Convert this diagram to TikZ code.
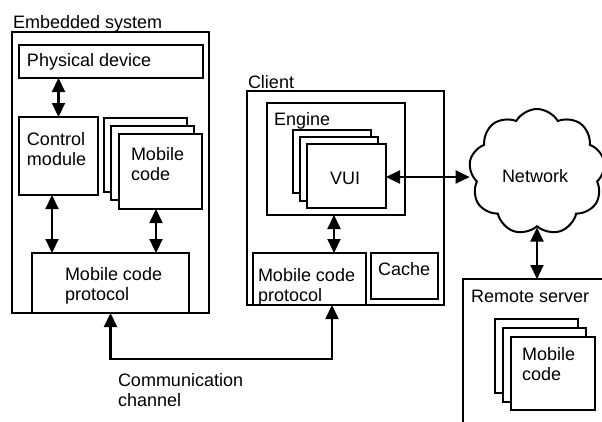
\documentclass[tikz,border=0pt]{standalone}
\usepackage{fontspec}
\setmainfont{Liberation Sans}
\usetikzlibrary{arrows.meta,shapes.symbols}
\tikzset{
  box/.style={draw, line width=2pt, fill=white, anchor=north west, inner sep=0pt, outer sep=0pt},
  lbl/.style={anchor=north west, inner sep=0pt, outer sep=0pt, align=left, font=\fontsize{18}{20.5}\selectfont},
  biarrow/.style={line width=2.2pt, {Triangle[length=14pt,width=13pt]}-{Triangle[length=14pt,width=13pt]}},
}
\begin{document}
\begin{tikzpicture}[x=1pt,y=-1pt]
\useasboundingbox (0,0) rectangle (602,421);
% Embedded system
\node[box, minimum width=197pt, minimum height=281pt] (emb) at (12,32) {};
\node[lbl] (embl) at (13,15) {Embedded system};
\node[box, minimum width=184pt, minimum height=33pt] (phys) at (19,45) {};
\node[lbl] (physl) at (27,53) {Physical device};
\node[box, minimum width=79pt, minimum height=78pt] (ctrl) at (19,117) {};
\node[lbl] (ctrll) at (27,132) {Control\\module};
\node[box, minimum width=83pt, minimum height=74pt] (em1) at (104,118) {};
\node[box, minimum width=83pt, minimum height=74pt] (em2) at (111,126) {};
\node[box, minimum width=83pt, minimum height=75pt] (em3) at (119,134) {};
\node[lbl] (eml) at (131,147) {Mobile\\code};
\node[box, minimum width=157pt, minimum height=60pt] (eprot) at (32,253) {};
\node[lbl] (eprotl) at (65,267) {Mobile code\\protocol};
\draw[biarrow] (phys.south -| ctrl.north) -- (ctrl.north);
\draw[biarrow] (ctrl.south -| 52,0) -- (eprot.north -| 52,0);
\draw[biarrow] (em3.south -| 156,0) -- (eprot.north -| 156,0);
% Client
\node[box, minimum width=197pt, minimum height=214pt] (client) at (247,91) {};
\node[lbl] (clientl) at (248,75) {Client};
\node[box, minimum width=138pt, minimum height=112pt] (engine) at (267,103) {};
\node[lbl] (enginel) at (274,112) {Engine};
\node[box, minimum width=78pt, minimum height=63pt] (v1) at (293,130) {};
\node[box, minimum width=78pt, minimum height=64pt] (v2) at (300,137) {};
\node[box, minimum width=79pt, minimum height=64pt] (v3) at (307,144) {};
\node[lbl] (vl) at (330,172) {VUI};
\node[box, minimum width=113pt, minimum height=52pt] (cprot) at (253,253) {};
\node[lbl] (cprotl) at (258,268) {Mobile code\\protocol};
\node[box, minimum width=67pt, minimum height=46pt] (cache) at (371,253) {};
\node[lbl] (cachel) at (378,262) {Cache};
\draw[biarrow] (engine.south -| 334,0) -- (cprot.north -| 334,0);
% Network
\node[cloud, draw, line width=2pt, cloud puffs=9, cloud puff arc=120, minimum width=136pt, minimum height=126pt, inner sep=0pt] (net) at (537,172) {};
\node[lbl, anchor=north] (netl) at (535,169) {Network};
\draw[biarrow] (v3.east |- 0,177) -- (net.west |- 0,177);
% Remote server
\begin{scope}
\clip (0,0) rectangle (602,421);
\node[box, minimum width=170pt, minimum height=170pt] (remote) at (463,279) {};
\end{scope}
\node[lbl] (remotel) at (471,290) {Remote server};
\node[box, minimum width=83pt, minimum height=74pt] (r1) at (495,319) {};
\node[box, minimum width=83pt, minimum height=74pt] (r2) at (503,328) {};
\node[box, minimum width=84pt, minimum height=73pt] (r3) at (511,337) {};
\node[lbl] (rl) at (522,347) {Mobile\\code};
\draw[biarrow] (net.south) -- (net.south |- remote.north);
% Communication channel
\coordinate (cc) at (332,359);
\draw[biarrow] (eprot.south) |- (cc) -- (client.south -| cc);
\node[lbl] (ccl) at (118,373) {Communication\\channel};
\end{tikzpicture}
\end{document}
